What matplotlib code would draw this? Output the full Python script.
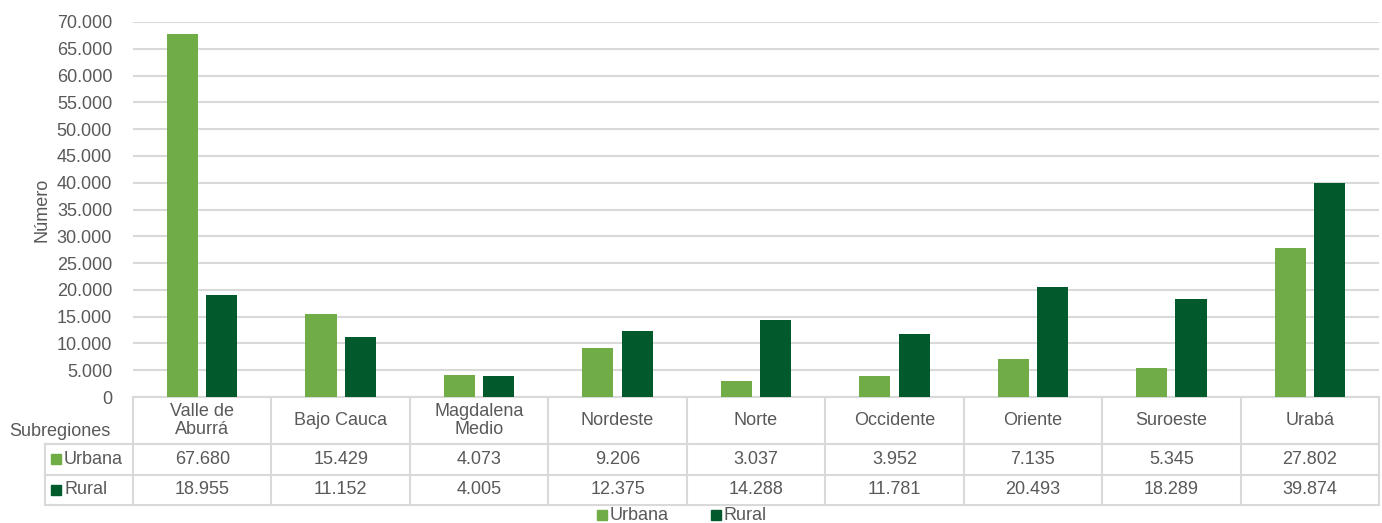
import matplotlib
matplotlib.use('Agg')
import matplotlib.pyplot as plt
import matplotlib.transforms as mtransforms
from matplotlib.ticker import FuncFormatter

regions = ['Valle de\nAburrá', 'Bajo Cauca', 'Magdalena\nMedio', 'Nordeste', 'Norte',
           'Occidente', 'Oriente', 'Suroeste', 'Urabá']
urbana = [67680, 15429, 4073, 9206, 3037, 3952, 7135, 5345, 27802]
rural = [18955, 11152, 4005, 12375, 14288, 11781, 20493, 18289, 39874]

c_urb = '#70AD47'
c_rur = '#005A2B'
grid_c = '#D9D9D9'
txt_c = '#595959'

plt.rcParams['font.family'] = ['Liberation Sans', 'DejaVu Sans']
fs = 13

W, H = 1382, 523
fig = plt.figure(figsize=(W / 100, H / 100), dpi=100)

def fy(py):
    return 1 - py / H

def fx(px):
    return px / W

ax = fig.add_axes([fx(133), fy(397), fx(1379) - fx(133), fy(22) - fy(397)])

def fmt(v):
    return '{:,}'.format(int(v)).replace(',', '.')

x = list(range(len(regions)))
w = 0.225
off = 0.142
ax.bar([i - off for i in x], urbana, w, color=c_urb, zorder=3)
ax.bar([i + off for i in x], rural, w, color=c_rur, zorder=3)

ax.set_xlim(-0.5, len(regions) - 0.5)
ax.set_ylim(0, 70000)
ax.set_yticks(range(0, 70001, 5000))
ax.yaxis.set_major_formatter(FuncFormatter(lambda v, p: fmt(v)))
ax.tick_params(axis='y', length=0, pad=15, labelsize=fs, labelcolor=txt_c)
ax.set_xticks([])
ax.grid(axis='y', color=grid_c, linewidth=1.5, zorder=0)
for s in ax.spines.values():
    s.set_visible(False)

fig.text(fx(42), fy(210), 'Número', rotation=90, ha='center', va='center',
         fontsize=fs, color=txt_c)

# data table below the axis
tr = mtransforms.blended_transform_factory(ax.transData, fig.transFigure)
lw = 1.5
n = len(regions)
ax.plot([-0.5, n - 0.5], [fy(397)] * 2, transform=tr, color=grid_c, lw=lw, clip_on=False)
for py in (444, 474.5, 504.5):
    fig.add_artist(plt.Line2D([fx(45), fx(1379)], [fy(py)] * 2, color=grid_c, lw=lw))
for i in range(n + 1):
    ax.plot([i - 0.5] * 2, [fy(397), fy(504.5)], transform=tr, color=grid_c, lw=lw, clip_on=False)
fig.add_artist(plt.Line2D([fx(45)] * 2, [fy(444), fy(504.5)], color=grid_c, lw=lw))

for i in x:
    ax.text(i, fy(420.5), regions[i], transform=tr, ha='center', va='center',
            fontsize=fs, color=txt_c, linespacing=1.0)
    ax.text(i, fy(459), fmt(urbana[i]), transform=tr, ha='center', va='center',
            fontsize=fs, color=txt_c)
    ax.text(i, fy(489.5), fmt(rural[i]), transform=tr, ha='center', va='center',
            fontsize=fs, color=txt_c)

fig.text(fx(110), fy(431), 'Subregiones', ha='right', va='center', fontsize=fs, color=txt_c)
for py, lab, col in ((459, 'Urbana', c_urb), (489.5, 'Rural', c_rur)):
    fig.add_artist(plt.Rectangle((fx(51), fy(py + 5)), fx(10), fy(py - 5) - fy(py + 5),
                                 color=col, transform=fig.transFigure))
    fig.text(fx(64), fy(py), lab, ha='left', va='center', fontsize=fs, color=txt_c)

# legend
for px, lab, col in ((597, 'Urbana', c_urb), (711, 'Rural', c_rur)):
    fig.add_artist(plt.Rectangle((fx(px), fy(520)), fx(10), fy(510) - fy(520),
                                 color=col, transform=fig.transFigure))
    fig.text(fx(px + 13), fy(515), lab, ha='left', va='center', fontsize=fs, color=txt_c)

fig.savefig('out.png', dpi=100)
